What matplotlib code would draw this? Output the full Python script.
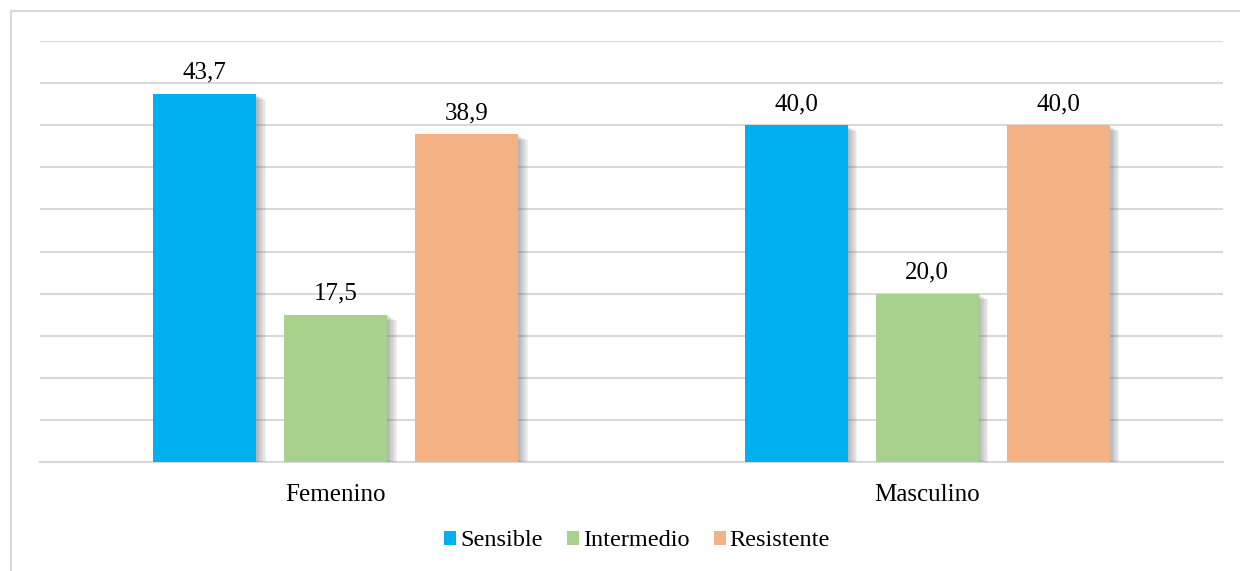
import numpy as np
import matplotlib.pyplot as plt
from matplotlib import patheffects
from matplotlib.patches import Rectangle

plt.rcParams['font.family'] = ['Liberation Serif', 'DejaVu Serif']

categories = ['Femenino', 'Masculino']
series = ['Sensible', 'Intermedio', 'Resistente']
values = {
    'Sensible': [43.7, 40.0],
    'Intermedio': [17.5, 20.0],
    'Resistente': [38.9, 40.0],
}
colors = ['#00B0F0', '#A9D18E', '#F4B183']

W, H = 1240, 571
fig = plt.figure(figsize=(W / 100, H / 100), dpi=100)

# outer frame of the chart area
fig.patches.append(Rectangle((11 / W, -0.1), 1.2, (H - 11) / H + 0.1,
                             transform=fig.transFigure, fill=False,
                             edgecolor='#D9D9D9', linewidth=1.5))

ax = fig.add_axes([40 / W, (H - 462) / H, (1223 - 40) / W, (462 - 41) / H])

x = np.arange(len(categories))
width = 0.174
step = 0.2215

# soft drop shadow built from stacked offset copies
shadow = [patheffects.SimplePatchShadow(offset=(k, -0.6 * k), shadow_rgbFace='#606060',
                                        alpha=0.08) for k in range(7, 0, -1)]
shadow.append(patheffects.Normal())

for i, (name, col) in enumerate(zip(series, colors)):
    pos = x + (i - 1) * step
    bars = ax.bar(pos, values[name], width, color=col, label=name, zorder=3)
    for b in bars:
        b.set_path_effects(shadow)
    for p, v in zip(pos, values[name]):
        ax.text(p, v + 1.8, f'{v:.1f}'.replace('.', ','), ha='center', va='baseline',
                fontsize=18, zorder=4)

ax.set_xlim(-0.5, 1.5)
ax.set_ylim(0, 50)
ax.set_yticks(np.arange(0, 55, 5))
ax.yaxis.grid(True, color='#D9D9D9', linewidth=1.5, zorder=0)
ax.tick_params(axis='y', left=False, labelleft=False)
ax.tick_params(axis='x', bottom=False, labelsize=18, pad=12)
ax.set_xticks(x)
ax.set_xticklabels(categories)
for s in ['top', 'right', 'left']:
    ax.spines[s].set_visible(False)
ax.spines['bottom'].set_color('#D9D9D9')
ax.spines['bottom'].set_linewidth(1.5)

leg = fig.legend(loc='center', bbox_to_anchor=(637 / W, (H - 541) / H), ncol=3,
                 frameon=False, fontsize=17.5, handlelength=0.5, handleheight=0.5,
                 handletextpad=0.15, columnspacing=1.0)
for h in leg.legend_handles:
    h.set_path_effects([])

fig.savefig('out.png', dpi=100)
